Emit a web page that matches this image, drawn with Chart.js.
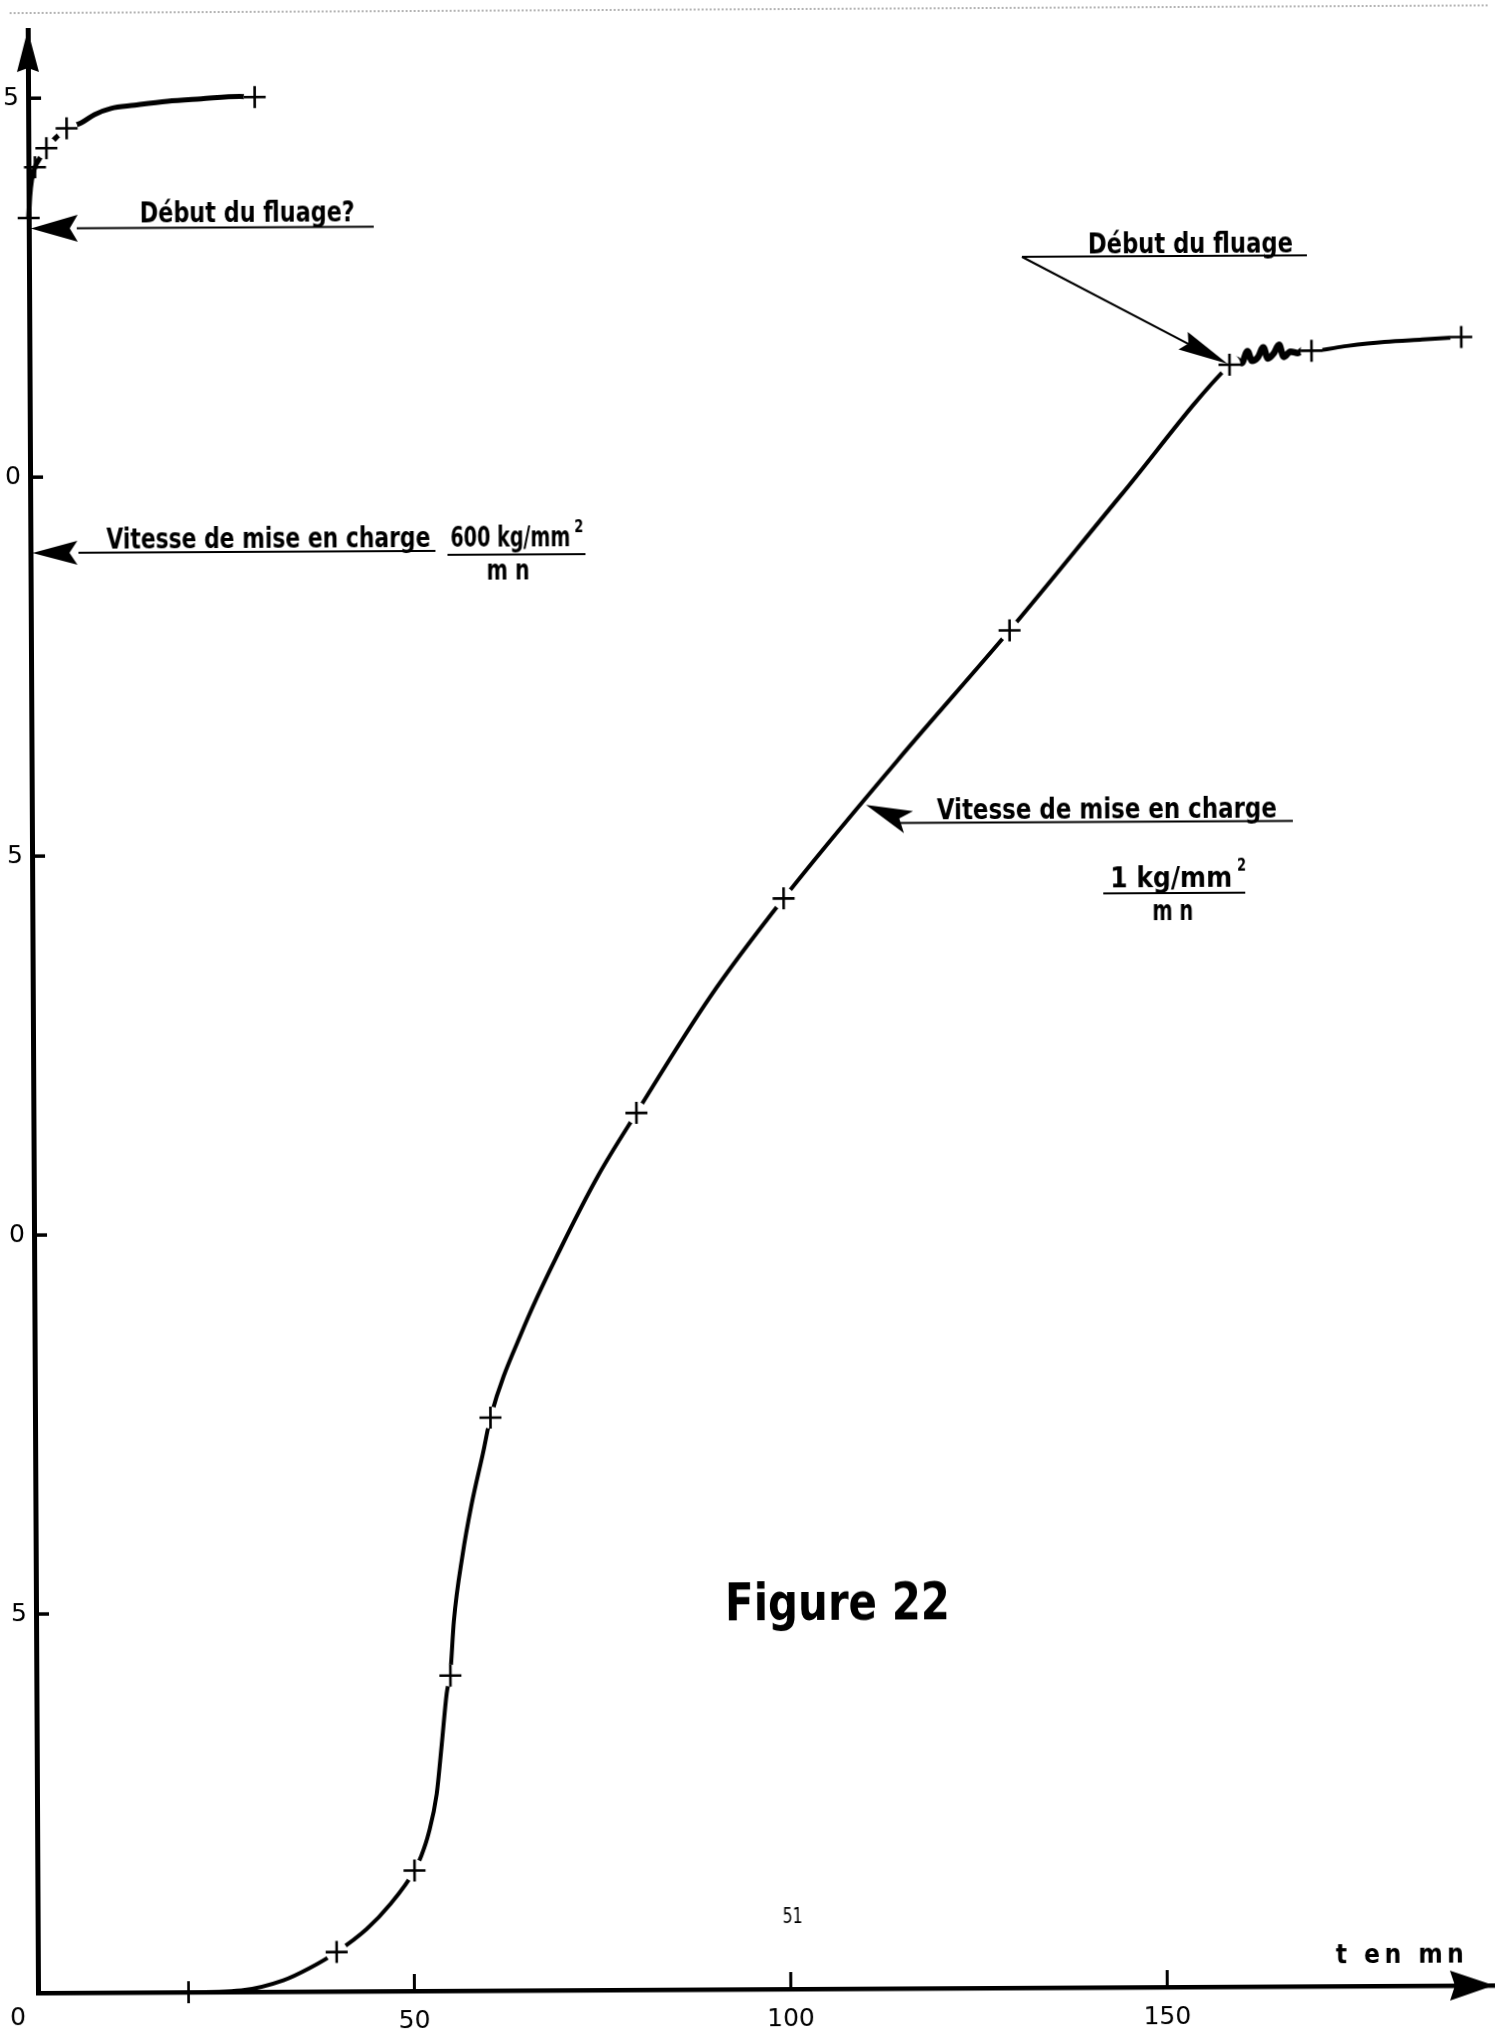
<!DOCTYPE html>
<html lang="fr">
<head>
<meta charset="utf-8">
<title>Figure 22</title>
<script src="https://cdn.jsdelivr.net/npm/chart.js@4.4.1/dist/chart.umd.min.js"></script>
<style>
  html, body { margin: 0; padding: 0; background: #fff; overflow: hidden; }
  #wrap { position: relative; width: 1509px; height: 2033px; }
  /* the scanned page is turned very slightly */
  #chart { display: block; transform-origin: 38px 1993px; transform: rotate(-0.3deg); }
</style>
</head>
<body>
<div id="wrap"><canvas id="chart" width="1509" height="2033"></canvas></div>
<script>
// t en mn / charge en kg/mm²
const X_MAX = 193.4;
const Y_MAX = 25.9;
const xTickValues = [0, 50, 100, 150];
const yTickValues = [0, 5, 10, 15, 20, 25];

// mise en charge 1 kg/mm²/mn, then creep from ~160 mn
const slowTime = [0, 20, 27, 32.6, 36.1, 39.7, 43.7, 46.8, 50.1, 51.0, 52.0, 53.1, 53.8, 54.5, 55.0, 55.5, 56.7, 57.9, 59.5, 60.5, 65, 70, 75, 80.1, 90, 99.8, 115, 130, 145, 159.4,
  160.3, 161.0, 161.8, 162.4, 163.2, 163.9, 164.5, 165.3, 166.0, 166.6, 167.5, 168.5, 169.3, 170.3, 175, 180, 185, 190.2];
const slowLoad = [0, 0, 0.02, 0.15, 0.31, 0.52, 0.82, 1.14, 1.59, 1.78, 2.08, 2.6, 3.25, 3.93, 4.2, 4.88, 5.75, 6.4, 7.1, 7.56, 8.75, 9.8, 10.75, 11.57, 13.1, 14.39, 16.2, 17.91, 19.7, 21.4,
  21.47, 21.42, 21.58, 21.45, 21.5, 21.63, 21.48, 21.55, 21.66, 21.5, 21.57, 21.55, 21.6, 21.58, 21.64, 21.69, 21.72, 21.75];
const slowMarkTime = [20, 39.7, 50.1, 55.0, 60.5, 80.1, 99.8, 130.0, 159.4, 170.3, 190.2];
const slowMarkLoad = [0, 0.52, 1.59, 4.16, 7.56, 11.57, 14.39, 17.91, 21.4, 21.58, 21.75];

// mise en charge 600 kg/mm²/mn
const fastTime = [0, 0.15, 0.4, 0.87, 1.6, 2.4, 3.7, 5.1, 7.0, 8.8, 11.0, 14.1, 18.5, 23.0, 28.1, 30.1];
const fastLoad = [23.42, 23.7, 23.92, 24.09, 24.22, 24.34, 24.48, 24.6, 24.67, 24.78, 24.86, 24.9, 24.95, 24.98, 25.01, 25.0];
const fastMarkTime = [0, 0.87, 2.4, 5.1, 30.1];
const fastMarkLoad = [23.42, 24.09, 24.34, 24.6, 25.0];

const NARROW = '"Liberation Sans Narrow", "DejaVu Sans Condensed", "Open Sans", sans-serif';
const TICK_FONT = { family: '"DejaVu Sans", sans-serif', size: 25 };

const toPoints = (xs, ys) => xs.map((x, i) => ({ x, y: ys[i] }));

function fitText(ctx, text, left, baseline, width, size, weight = 'bold', family = NARROW) {
  ctx.save();
  ctx.font = `${weight} ${size}px ${family}`;
  ctx.textAlign = 'left';
  ctx.textBaseline = 'alphabetic';
  const natural = ctx.measureText(text).width;
  if (natural < width && text.length > 1 && 'letterSpacing' in ctx) {
    ctx.letterSpacing = ((width - natural) / (text.length - 1)).toFixed(2) + 'px';
    ctx.fillText(text, left, baseline);
    ctx.letterSpacing = '0px';
  } else {
    ctx.translate(left, baseline);
    ctx.scale(width / natural, 1);
    ctx.fillText(text, 0, 0);
  }
  ctx.restore();
}

function hline(ctx, x1, x2, y, w = 2) {
  ctx.lineWidth = w;
  ctx.beginPath();
  ctx.moveTo(x1, y);
  ctx.lineTo(x2, y);
  ctx.stroke();
}

// barbed arrow head, tip at (x, y), pointing along angle
function arrowHead(ctx, x, y, angle, len, half, notch) {
  ctx.save();
  ctx.translate(x, y);
  ctx.rotate(angle);
  ctx.beginPath();
  ctx.moveTo(0, 0);
  ctx.lineTo(-len, -half);
  ctx.lineTo(-len + notch, 0);
  ctx.lineTo(-len, half);
  ctx.closePath();
  ctx.fill();
  ctx.restore();
}

const figureNotes = {
  id: 'figureNotes',
  afterDraw(chart) {
    const { ctx, chartArea: area, scales: { x, y } } = chart;
    ctx.save();

    // the page was trimmed just left of the axis labels
    ctx.fillStyle = '#fff';
    ctx.fillRect(-40, 0, 51, chart.height);

    ctx.fillStyle = '#000';
    ctx.strokeStyle = '#000';

    // scan edge
    ctx.save();
    ctx.strokeStyle = '#9a9a9a';
    ctx.setLineDash([2, 2]);
    hline(ctx, 20, 1500, 13, 1.5);
    ctx.restore();

    // axis arrows
    arrowHead(ctx, area.left, area.top, -Math.PI / 2, 42, 11, 4);
    arrowHead(ctx, area.right, area.bottom, 0, 44, 15, 5);

    // inner tick marks
    ctx.lineCap = 'butt';
    y.ticks.filter((t) => t.value > 0).forEach((t) => {
      const py = y.getPixelForValue(t.value);
      hline(ctx, area.left, area.left + 13, py, 3.5);
    });
    x.ticks.filter((t) => t.value > 0).forEach((t) => {
      const px = x.getPixelForValue(t.value);
      ctx.lineWidth = 3;
      ctx.beginPath();
      ctx.moveTo(px, area.bottom);
      ctx.lineTo(px, area.bottom - 17);
      ctx.stroke();
    });

    // origin label
    ctx.font = `${TICK_FONT.size}px ${TICK_FONT.family}`;
    ctx.textAlign = 'center';
    ctx.textBaseline = 'alphabetic';
    ctx.fillText('0', x.getPixelForValue(0) - 20, 2025);

    // Début du fluage?
    fitText(ctx, 'Début du fluage?', 149, 223, 215, 28);
    hline(ctx, 86, 383, 228.5);
    arrowHead(ctx, area.left + 2, y.getPixelForValue(23.28), Math.PI, 47, 13.5, 8);

    // Vitesse de mise en charge 600 kg/mm² / mn
    const fy = y.getPixelForValue(19.0);
    fitText(ctx, 'Vitesse de mise en charge', 114, fy - 4, 324, 28);
    hline(ctx, 86, 443, fy);
    arrowHead(ctx, area.left + 2, fy, Math.PI, 45, 12, 8);
    fitText(ctx, '600 kg/mm', 458, fy - 4, 120, 28);
    fitText(ctx, '2', 582, fy - 18, 9, 17);
    hline(ctx, 455, 593, fy + 4);
    fitText(ctx, 'm n', 494, fy + 29, 43, 28);

    // Début du fluage (creep start on slow curve)
    const cx = x.getPixelForValue(159.4);
    const cy = y.getPixelForValue(21.4);
    fitText(ctx, 'Début du fluage', 1097, 258.5, 205, 28);
    hline(ctx, 1031, 1316, 262);
    ctx.lineWidth = 2;
    ctx.beginPath();
    ctx.moveTo(1031, 262);
    ctx.lineTo(cx - 20, cy - 10);
    ctx.stroke();
    arrowHead(ctx, cx - 2, cy - 1, Math.atan2(cy - 262, cx - 1031), 50, 10, 6);

    // Vitesse de mise en charge 1 kg/mm² / mn
    const sx = x.getPixelForValue(110.8);
    const sy = y.getPixelForValue(15.62);
    arrowHead(ctx, sx, sy, Math.atan2(-17, -41), 46, 12, 10);
    fitText(ctx, 'Vitesse de mise en charge', 943, 824, 340, 28);
    hline(ctx, sx + 32, 1299, 827.5);
    fitText(ctx, '1 kg/mm', 1116, 892.6, 122, 28);
    fitText(ctx, '2', 1243, 877, 9, 17);
    hline(ctx, 1109, 1251, 899);
    fitText(ctx, 'm n', 1158, 926, 41, 28);

    fitText(ctx, 'Figure 22', 727, 1624, 225, 51);
    fitText(ctx, '51', 783, 1927, 20, 21, 'normal', TICK_FONT.family);
    fitText(ctx, 't en mn', 1336, 1970, 128, 26);

    ctx.restore();
  },
};

const markerStyle = {
  showLine: false,
  pointStyle: 'cross',
  pointRadius: 11,
  pointBorderWidth: 2.6,
  pointBorderColor: '#000',
  clip: false,
  order: 0,
};

const curveStyle = {
  borderColor: '#000',
  pointRadius: 0,
  fill: false,
  cubicInterpolationMode: 'monotone',
  clip: false,
  order: 2,
};

const allMarks = toPoints(slowMarkTime, slowMarkLoad).concat(toPoints(fastMarkTime, fastMarkLoad));

new Chart(document.getElementById('chart'), {
  type: 'line',
  data: {
    datasets: [
      { label: 'points 1 kg/mm²/mn', data: toPoints(slowMarkTime, slowMarkLoad), ...markerStyle },
      { label: 'points 600 kg/mm²/mn', data: toPoints(fastMarkTime, fastMarkLoad), ...markerStyle },
      {
        // the pen lifts around each cross
        label: 'gaps',
        data: allMarks,
        showLine: false,
        pointStyle: 'circle',
        pointRadius: (c) => (c.raw && (c.raw.y === 0 || c.raw.x < 1.5) ? 0 : 11),
        pointBackgroundColor: '#fff',
        pointBorderWidth: 0,
        clip: false,
        order: 1,
      },
      {
        label: '1 kg/mm²/mn',
        data: toPoints(slowTime, slowLoad),
        borderWidth: 4,
        ...curveStyle,
        // the creep onset is inked heavily
        segment: {
          borderWidth: (s) => (s.p0.parsed.x >= 159.4 && s.p1.parsed.x <= 170.3 ? 6.5 : undefined),
        },
      },
      { label: '600 kg/mm²/mn', data: toPoints(fastTime, fastLoad), borderWidth: 5, ...curveStyle },
    ],
  },
  options: {
    responsive: false,
    animation: false,
    devicePixelRatio: 1,
    layout: { padding: { top: 30, right: 15, left: 0, bottom: 0 } },
    plugins: { legend: { display: false }, tooltip: { enabled: false } },
    events: [],
    scales: {
      x: {
        type: 'linear',
        min: 0,
        max: X_MAX,
        grid: { display: false },
        border: { display: true, color: '#000', width: 4.5 },
        afterBuildTicks: (s) => { s.ticks = xTickValues.map((value) => ({ value })); },
        afterFit: (s) => { s.height = 40; },
        ticks: {
          callback: (v) => (v === 0 ? '' : v),
          color: '#000',
          font: TICK_FONT,
          padding: 7,
          maxRotation: 0,
          autoSkip: false,
        },
      },
      y: {
        type: 'linear',
        min: 0,
        max: Y_MAX,
        grid: { display: false },
        border: { display: true, color: '#000', width: 5 },
        afterBuildTicks: (s) => { s.ticks = yTickValues.map((value) => ({ value })); },
        afterFit: (s) => { s.width = 38; },
        ticks: {
          callback: (v) => (v === 0 ? '' : v),
          color: '#000',
          font: TICK_FONT,
          padding: 1,
          autoSkip: false,
        },
      },
    },
  },
  plugins: [figureNotes],
});
</script>
</body>
</html>
